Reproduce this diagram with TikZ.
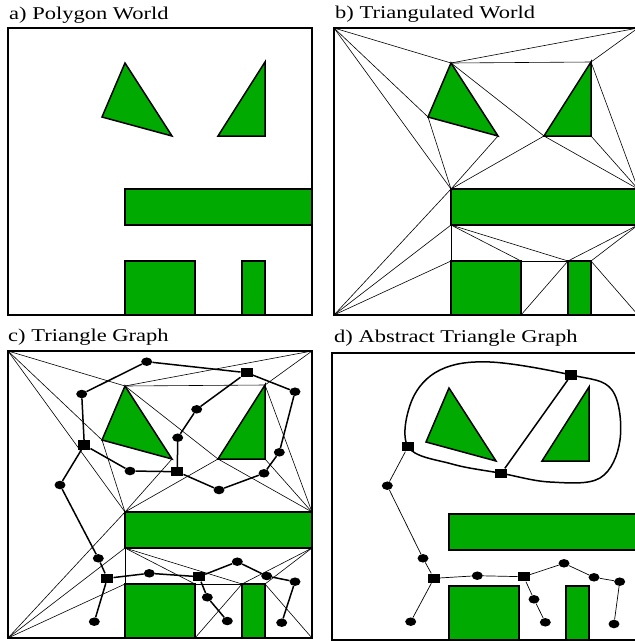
\documentclass[tikz,border=0pt]{standalone}
\usepackage{fontspec}
\setmainfont{Liberation Serif}[FakeStretch=1.25]
\usetikzlibrary{shapes.geometric}
\definecolor{obst}{RGB}{0,170,0}
\pgfdeclarelayer{back}
\pgfdeclarelayer{edges}
\pgfsetlayers{back,edges,main}
\tikzset{
  obstacle/.style={fill=obst, draw=black, line width=1.5pt, line join=miter},
  frame/.style={draw=black, line width=1.6pt},
  tri/.style={draw=black, line width=0.6pt},
  gedge/.style={draw=black, line width=1.5pt},
  aedge/.style={draw=black, line width=0.7pt},
  dotnode/.style={ellipse, fill=black, minimum width=11pt, minimum height=8.5pt, inner sep=0pt},
  sqnode/.style={rectangle, fill=black, minimum width=12pt, minimum height=9.5pt, inner sep=0pt},
  title/.style={anchor=base west, font=\fontsize{18}{21}\selectfont, inner sep=0pt},
}
\newcommand\worldcoords{%
  \coordinate (TL) at (8,28);   \coordinate (TR) at (312,28);
  \coordinate (BL) at (8,315);  \coordinate (BR) at (312,315);
  \coordinate (A) at (125,63);  \coordinate (B) at (102,117); \coordinate (C) at (172,136);
  \coordinate (D) at (265,62);  \coordinate (E) at (218,136); \coordinate (F) at (265,136);
  \coordinate (G) at (125,189); \coordinate (H) at (312,189);
  \coordinate (I) at (125,225); \coordinate (J) at (312,225);
  \coordinate (K) at (125,261); \coordinate (L) at (195,261);
  \coordinate (M) at (125,315); \coordinate (N) at (195,315);
  \coordinate (P) at (242,261); \coordinate (Q) at (265,261);
  \coordinate (R) at (242,315); \coordinate (S) at (265,315);
}
\newcommand\obstacles{%
  \draw[obstacle] (A) -- (B) -- (C) -- cycle;
  \draw[obstacle] (D) -- (E) -- (F) -- cycle;
  \draw[obstacle] (G) rectangle (J);
  \draw[obstacle] (K) rectangle (N);
  \draw[obstacle] (P) rectangle (S);
}
\newcommand\triangulation{%
  \foreach \u/\v in {TL/A, TL/B, TL/G, B/G, BL/G, BL/I, BL/K, A/TR, D/TR, A/D,
                     A/E, D/H, F/H, C/G, E/G, E/H, I/K, I/L, I/P, J/P, J/Q,
                     Q/BR, L/P, P/N}
    {\draw[tri] (\u) -- (\v);}
}
\begin{document}
\begin{tikzpicture}[x=1pt, y=-1pt]
\useasboundingbox (0,0) rectangle (635,641);

% titles
\node[title] (ta) at (9,19)   {a) Polygon World};
\node[title] (tb) at (335,18) {b) Triangulated World};
\node[title] (tc) at (8,341)  {c) Triangle Graph};
\node[title] (td) at (334,342) {d) Abstract Triangle Graph};

\begin{pgfonlayer}{back}
\fill[white] (0,0) rectangle (635,641);
% panel a
\begin{scope}
  \worldcoords
  \obstacles
  \draw[frame] (TL) rectangle (BR);
\end{scope}
% panel b
\begin{scope}[shift={(326,0)}]
  \worldcoords
  \triangulation
  \obstacles
  \draw[frame] (TL) rectangle (BR);
\end{scope}
% panel c
\begin{scope}[shift={(0,323)}]
  \worldcoords
  \triangulation
  \obstacles
  \draw[frame] (TL) rectangle (BR);
\end{scope}
% panel d
\begin{scope}[shift={(324,325)}]
  \worldcoords
  \obstacles
  \draw[frame, line width=1.3pt] (TL) rectangle (BR);
\end{scope}
\end{pgfonlayer}

% panel c graph nodes
\node[dotnode] (c1)  at (146.7,361.7) {};
\node[sqnode]  (s1)  at (246.7,372.7) {};
\node[dotnode] (c2)  at (295,391.7) {};
\node[dotnode] (c3)  at (81.7,394) {};
\node[dotnode] (c4)  at (196.7,409.3) {};
\node[dotnode] (c5)  at (177.7,437.7) {};
\node[sqnode]  (s2)  at (84.3,445) {};
\node[dotnode] (c6)  at (279.3,452.3) {};
\node[sqnode]  (s3)  at (177.3,471.7) {};
\node[dotnode] (c7)  at (130,471) {};
\node[dotnode] (c8)  at (264,473.3) {};
\node[dotnode] (c9)  at (60,485) {};
\node[dotnode] (c10) at (219,490) {};
\node[dotnode] (c11) at (98.3,558.3) {};
\node[dotnode] (c12) at (237.3,561.7) {};
\node[dotnode] (c13) at (149.3,573.3) {};
\node[sqnode]  (s4)  at (107.3,578.3) {};
\node[sqnode]  (s5)  at (199,576.7) {};
\node[dotnode] (c14) at (266.7,576) {};
\node[dotnode] (c15) at (295,581.7) {};
\node[dotnode] (c16) at (207.3,597.3) {};
\node[dotnode] (c17) at (94.3,621.7) {};
\node[dotnode] (c18) at (227.3,621) {};
\node[dotnode] (c19) at (281.7,622.7) {};

% panel d graph nodes
\node[sqnode]  (ds1) at (571.3,375) {};
\node[sqnode]  (ds2) at (408,446.7) {};
\node[sqnode]  (ds3) at (501.3,473.3) {};
\node[dotnode] (d1)  at (387.3,485.7) {};
\node[dotnode] (d2)  at (423,558.3) {};
\node[sqnode]  (ds4) at (434,578.3) {};
\node[dotnode] (d3)  at (477.3,575.7) {};
\node[sqnode]  (ds5) at (523.7,576.7) {};
\node[dotnode] (d4)  at (564,563.3) {};
\node[dotnode] (d5)  at (594,577.3) {};
\node[dotnode] (d6)  at (619.7,581.7) {};
\node[dotnode] (d7)  at (534,599.3) {};
\node[dotnode] (d8)  at (410.7,621.7) {};
\node[dotnode] (d9)  at (545.3,622.3) {};
\node[dotnode] (d10) at (614,624) {};

\begin{pgfonlayer}{edges}
  \foreach \u/\v in {c1/s1, c1/c3, c3/s2, s1/c2, s1/c4, c4/c5, c5/s3, c2/c6,
                     c6/c8, c8/c10, c10/s3, s3/c7, c7/s2, s2/c9, c9/c11, c11/s4,
                     s4/c17, s4/c13, c13/s5, s5/c12, c12/c14, c14/c15, c15/c19,
                     s5/c16, c16/c18}
    {\draw[gedge] (\u) -- (\v);}
  \foreach \u/\v in {ds2/d1, d1/d2, d2/ds4, ds4/d8, ds4/d3, d3/ds5, ds5/d4,
                     d4/d5, d5/d6, d6/d10, ds5/d7, d7/d9}
    {\draw[aedge] (\u) -- (\v);}
  \draw[gedge] (ds1) -- (ds3);
  \draw[gedge] plot[smooth cycle, tension=0.6] coordinates {
     (ds2.center) (412,400) (440,370) (490,362) (ds1.center) (612,390)
     (620,440) (600,478) (550,482) (ds3.center) (452,464)};
\end{pgfonlayer}
\end{tikzpicture}
\end{document}
